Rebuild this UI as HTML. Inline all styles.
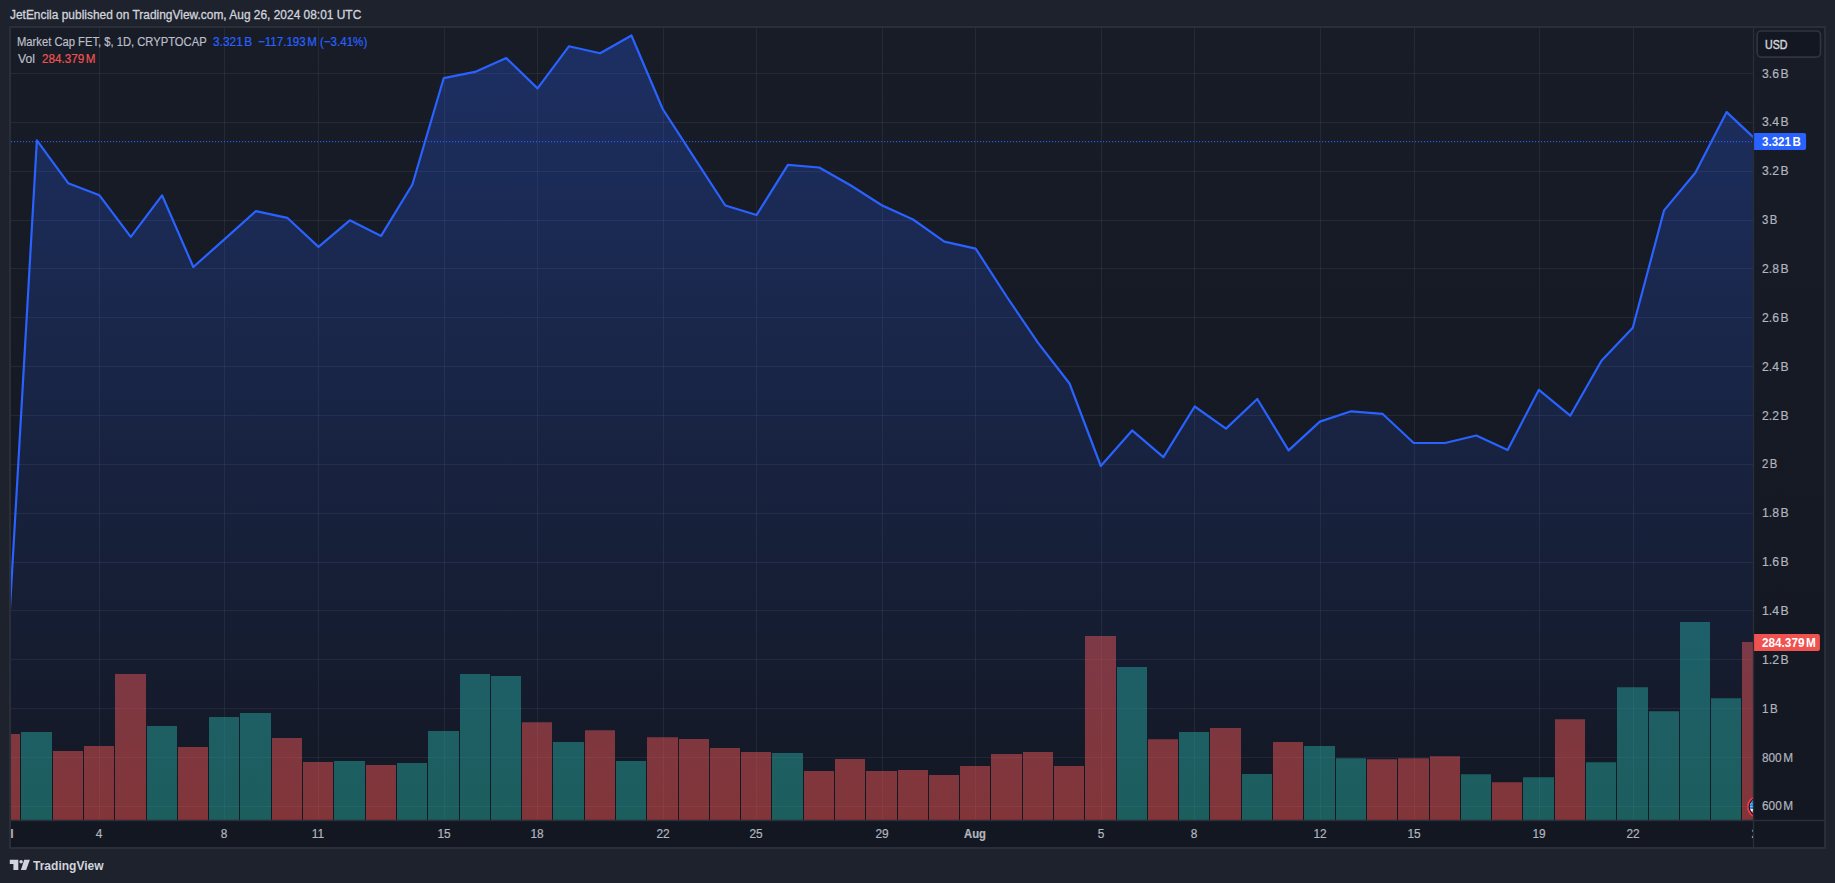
<!DOCTYPE html>
<html lang="en"><head><meta charset="utf-8"><title>Market Cap FET chart</title>
<style>
html,body{margin:0;padding:0;background:#1e222d;}
body{width:1835px;height:883px;position:relative;overflow:hidden;font-family:"Liberation Sans",sans-serif;}
.t{position:absolute;white-space:nowrap;line-height:20px;height:20px;margin:0;padding:0;}
.ts{display:inline-block;width:1.6px;}
#clipx{position:absolute;left:11.0px;top:821.5px;width:1742.0px;height:25.5px;overflow:hidden;}
</style></head><body>
<svg width="1835" height="883" viewBox="0 0 1835 883" style="position:absolute;left:0;top:0">
<defs>
<linearGradient id="bg" x1="0" y1="0" x2="0" y2="1"><stop offset="0" stop-color="#181c27"/><stop offset="1" stop-color="#131722"/></linearGradient>
<linearGradient id="af" gradientUnits="userSpaceOnUse" x1="0" y1="27.5" x2="0" y2="820.5"><stop offset="0" stop-color="#2962ff" stop-opacity="0.28"/><stop offset="1" stop-color="#2962ff" stop-opacity="0.0"/></linearGradient>
<clipPath id="pane"><rect x="11.0" y="28.0" width="1742.5" height="792.5"/></clipPath>
</defs>
<rect x="10.0" y="27.0" width="1815.0" height="821.0" fill="url(#bg)" stroke="#2a2e39" stroke-width="2"/>
<path d="M99.50 28.0V820.5M224.50 28.0V820.5M318.50 28.0V820.5M444.50 28.0V820.5M537.50 28.0V820.5M663.50 28.0V820.5M756.50 28.0V820.5M882.50 28.0V820.5M975.50 28.0V820.5M1101.50 28.0V820.5M1194.50 28.0V820.5M1320.50 28.0V820.5M1414.50 28.0V820.5M1539.50 28.0V820.5M1633.50 28.0V820.5M11.0 73.5H1753.5M11.0 122.5H1753.5M11.0 171.5H1753.5M11.0 220.5H1753.5M11.0 268.5H1753.5M11.0 317.5H1753.5M11.0 366.5H1753.5M11.0 415.5H1753.5M11.0 464.5H1753.5M11.0 513.5H1753.5M11.0 562.5H1753.5M11.0 610.5H1753.5M11.0 659.5H1753.5M11.0 708.5H1753.5M11.0 757.5H1753.5M11.0 806.5H1753.5" stroke="rgba(240,243,250,0.065)" stroke-width="1" fill="none"/>
<g clip-path="url(#pane)">
<path d="M21 732.0H52V820.5H21ZM147 726.0H177V820.5H147ZM209 717.0H239V820.5H209ZM240 713.0H271V820.5H240ZM334 761.1H365V820.5H334ZM397 763.1H427V820.5H397ZM428 731.0H459V820.5H428ZM460 674.1H490V820.5H460ZM491 676.1H521V820.5H491ZM553 742.1H584V820.5H553ZM616 761.1H646V820.5H616ZM772 753.1H803V820.5H772ZM1117 667.1H1147V820.5H1117ZM1179 732.0H1209V820.5H1179ZM1242 774.1H1272V820.5H1242ZM1304 746.1H1335V820.5H1304ZM1336 758.2H1366V820.5H1336ZM1461 774.2H1491V820.5H1461ZM1523 777.2H1554V820.5H1523ZM1586 762.2H1616V820.5H1586ZM1617 687.2H1648V820.5H1617ZM1649 711.3H1679V820.5H1649ZM1680 622.0H1710V820.5H1680ZM1711 698.2H1741V820.5H1711Z" fill="rgba(38,166,154,0.5)"/>
<path d="M-10 734.0H20V820.5H-10ZM53 751.1H83V820.5H53ZM84 746.1H114V820.5H84ZM115 674.1H146V820.5H115ZM178 747.1H208V820.5H178ZM272 738.0H302V820.5H272ZM303 762.1H333V820.5H303ZM366 765.1H396V820.5H366ZM522 722.3H552V820.5H522ZM585 730.3H615V820.5H585ZM647 737.3H678V820.5H647ZM679 739.0H709V820.5H679ZM710 748.1H740V820.5H710ZM741 752.1H771V820.5H741ZM804 771.1H834V820.5H804ZM835 759.1H865V820.5H835ZM866 771.1H897V820.5H866ZM898 770.1H928V820.5H898ZM929 775.1H959V820.5H929ZM960 766.1H990V820.5H960ZM991 754.1H1022V820.5H991ZM1023 752.1H1053V820.5H1023ZM1054 766.1H1084V820.5H1054ZM1085 636.0H1116V820.5H1085ZM1148 739.3H1178V820.5H1148ZM1210 728.0H1241V820.5H1210ZM1273 742.1H1303V820.5H1273ZM1367 759.2H1397V820.5H1367ZM1398 758.2H1429V820.5H1398ZM1430 756.2H1460V820.5H1430ZM1492 782.2H1522V820.5H1492ZM1555 719.3H1585V820.5H1555ZM1742 642.1H1773V820.5H1742Z" fill="rgba(239,83,80,0.5)"/>
<polygon points="5.60,820.5 5.60,684.0 36.89,140.3 68.18,183.2 99.48,195.3 130.77,236.9 162.06,195.3 193.35,267.0 224.64,239.1 255.94,211.1 287.23,217.8 318.52,246.9 349.81,220.3 381.10,235.9 412.40,184.5 443.69,78.2 474.98,71.9 506.27,58.1 537.56,88.4 568.86,46.3 600.15,53.3 631.44,35.5 662.73,109.0 694.02,157.3 725.32,205.5 756.61,215.0 787.90,164.9 819.19,167.5 850.48,185.2 881.78,205.2 913.07,219.5 944.36,241.6 975.65,248.6 1006.94,297.0 1038.24,343.1 1069.53,383.5 1100.82,466.0 1132.11,430.4 1163.40,457.2 1194.70,406.5 1225.99,428.6 1257.28,399.0 1288.57,450.4 1319.86,421.6 1351.16,411.3 1382.45,413.8 1413.74,443.0 1445.03,443.0 1476.32,435.5 1507.62,450.0 1538.91,389.8 1570.20,415.7 1601.49,360.8 1632.78,327.7 1664.08,210.4 1695.37,172.8 1726.66,112.1 1757.95,141.6 1757.95,820.5" fill="url(#af)"/>
<polyline points="5.60,684.0 36.89,140.3 68.18,183.2 99.48,195.3 130.77,236.9 162.06,195.3 193.35,267.0 224.64,239.1 255.94,211.1 287.23,217.8 318.52,246.9 349.81,220.3 381.10,235.9 412.40,184.5 443.69,78.2 474.98,71.9 506.27,58.1 537.56,88.4 568.86,46.3 600.15,53.3 631.44,35.5 662.73,109.0 694.02,157.3 725.32,205.5 756.61,215.0 787.90,164.9 819.19,167.5 850.48,185.2 881.78,205.2 913.07,219.5 944.36,241.6 975.65,248.6 1006.94,297.0 1038.24,343.1 1069.53,383.5 1100.82,466.0 1132.11,430.4 1163.40,457.2 1194.70,406.5 1225.99,428.6 1257.28,399.0 1288.57,450.4 1319.86,421.6 1351.16,411.3 1382.45,413.8 1413.74,443.0 1445.03,443.0 1476.32,435.5 1507.62,450.0 1538.91,389.8 1570.20,415.7 1601.49,360.8 1632.78,327.7 1664.08,210.4 1695.37,172.8 1726.66,112.1 1757.95,141.6" fill="none" stroke="#2962ff" stroke-width="2.2" stroke-linejoin="round" stroke-linecap="round"/>
<path d="M11.0 141.5H1753.5" stroke="#2962ff" stroke-width="1.25" stroke-dasharray="1.15 1.85" fill="none" opacity="0.88"/>
<g><clipPath id="fl"><circle cx="1758.0" cy="806.85" r="8.1"/></clipPath><circle cx="1758.0" cy="806.85" r="10.2" fill="#131722" stroke="#f23645" stroke-width="1.6"/><g clip-path="url(#fl)"><rect x="1749.0" y="797.85" width="18" height="18" fill="#fff"/><path d="M1749.0 812.45h18M1758.5 800.35h9M1758.5 804.35h9M1758.5 808.35h9" stroke="#f23645" stroke-width="2.1"/><rect x="1749.0" y="797.85" width="9.5" height="11.2" fill="#1e88e5"/><path d="M1749.0 803.95h9.5M1749.0 806.5500000000001h9.5" stroke="#90caf9" stroke-width="0.8"/></g></g>
</g>
<path d="M11.0 820.5H1824.0M1753.5 28.0V847.0" stroke="#2a2e39" stroke-width="1.3" fill="none"/>
<path d="M1754.1 133.1H1804.1a2.0 2.0 0 0 1 2.0 2.0V147.9a2.0 2.0 0 0 1 -2.0 2.0H1754.1Z" fill="#2962ff"/>
<path d="M1754.1 634.0H1817.9a2.0 2.0 0 0 1 2.0 2.0V649.1a2.0 2.0 0 0 1 -2.0 2.0H1754.1Z" fill="#ef5350"/>
<rect x="1757.2" y="31" width="63.3" height="26.1" rx="4" fill="#131722" stroke="#30343f" stroke-width="1.7"/>
<g fill="#d1d4dc" transform="translate(9.8 859.8)"><path d="M0 0H8.5V10.1H3.6V4.25H0Z"/><circle cx="11.3" cy="2" r="1.75"/><path d="M14.4 0H20.1L16.35 10.1H11.1Z"/></g>
</svg>
<div class="t" id="hdr" style="left:9.69px;top:5.17px;color:#d1d4dc;font-size:12.5px;-webkit-text-stroke:0.3px #d1d4dc;transform:scaleX(0.9544);transform-origin:0 50%">JetEncila published on TradingView.com, Aug 26, 2024 08:01 UTC</div>
<div class="t" id="l1" style="left:17.09px;top:32.07px;color:#bcbfc8;font-size:12.5px;-webkit-text-stroke:0.2px #bcbfc8;transform:scaleX(0.8969);transform-origin:0 50%">Market Cap FET, $, 1D, CRYPTOCAP</div>
<div class="t" id="l1v" style="left:212.97px;top:32.07px;color:#2962ff;font-size:12.5px;-webkit-text-stroke:0.2px #2962ff;transform:scaleX(0.9507);transform-origin:0 50%">3.321<span class="ts"></span>B</div>
<div class="t" id="l1c" style="left:258.01px;top:32.07px;color:#2962ff;font-size:12.5px;-webkit-text-stroke:0.2px #2962ff;transform:scaleX(0.9249);transform-origin:0 50%">−117.193<span class="ts"></span>M (−3.41%)</div>
<div class="t" id="l2" style="left:17.62px;top:48.87px;color:#bcbfc8;font-size:12.5px;-webkit-text-stroke:0.2px #bcbfc8;transform:scaleX(0.9756);transform-origin:0 50%">Vol</div>
<div class="t" id="l2v" style="left:41.54px;top:48.87px;color:#ef5350;font-size:12.5px;-webkit-text-stroke:0.2px #ef5350;transform:scaleX(0.9338);transform-origin:0 50%">284.379<span class="ts"></span>M</div>
<div class="t" id="usd" style="left:1764.98px;top:34.70px;color:#d1d4dc;font-size:12.4px;-webkit-text-stroke:0.45px #d1d4dc;transform:scaleX(0.8592);transform-origin:0 50%">USD</div>
<div class="t" id="p3.6B" style="left:1761.84px;top:63.77px;color:#b2b5be;font-size:12.5px;-webkit-text-stroke:0.2px #b2b5be;transform:scaleX(0.9737);transform-origin:0 50%">3.6<span class="ts"></span>B</div>
<div class="t" id="p3.4B" style="left:1761.84px;top:112.34px;color:#b2b5be;font-size:12.5px;-webkit-text-stroke:0.2px #b2b5be;transform:scaleX(0.9737);transform-origin:0 50%">3.4<span class="ts"></span>B</div>
<div class="t" id="p3.2B" style="left:1761.84px;top:160.71px;color:#b2b5be;font-size:12.5px;-webkit-text-stroke:0.2px #b2b5be;transform:scaleX(0.9737);transform-origin:0 50%">3.2<span class="ts"></span>B</div>
<div class="t" id="p3B" style="left:1761.86px;top:210.38px;color:#b2b5be;font-size:12.5px;-webkit-text-stroke:0.2px #b2b5be;transform:scaleX(0.9114);transform-origin:0 50%">3<span class="ts"></span>B</div>
<div class="t" id="p2.8B" style="left:1762.03px;top:259.25px;color:#b2b5be;font-size:12.5px;-webkit-text-stroke:0.2px #b2b5be;transform:scaleX(0.9714);transform-origin:0 50%">2.8<span class="ts"></span>B</div>
<div class="t" id="p2.6B" style="left:1762.03px;top:308.12px;color:#b2b5be;font-size:12.5px;-webkit-text-stroke:0.2px #b2b5be;transform:scaleX(0.9714);transform-origin:0 50%">2.6<span class="ts"></span>B</div>
<div class="t" id="p2.4B" style="left:1762.03px;top:356.99px;color:#b2b5be;font-size:12.5px;-webkit-text-stroke:0.2px #b2b5be;transform:scaleX(0.9714);transform-origin:0 50%">2.4<span class="ts"></span>B</div>
<div class="t" id="p2.2B" style="left:1762.03px;top:405.86px;color:#b2b5be;font-size:12.5px;-webkit-text-stroke:0.2px #b2b5be;transform:scaleX(0.9714);transform-origin:0 50%">2.2<span class="ts"></span>B</div>
<div class="t" id="p2B" style="left:1762.06px;top:453.93px;color:#b2b5be;font-size:12.5px;-webkit-text-stroke:0.2px #b2b5be;transform:scaleX(0.9078);transform-origin:0 50%">2<span class="ts"></span>B</div>
<div class="t" id="p1.8B" style="left:1761.69px;top:502.80px;color:#b2b5be;font-size:12.5px;-webkit-text-stroke:0.2px #b2b5be;transform:scaleX(0.9794);transform-origin:0 50%">1.8<span class="ts"></span>B</div>
<div class="t" id="p1.6B" style="left:1761.69px;top:552.47px;color:#b2b5be;font-size:12.5px;-webkit-text-stroke:0.2px #b2b5be;transform:scaleX(0.9794);transform-origin:0 50%">1.6<span class="ts"></span>B</div>
<div class="t" id="p1.4B" style="left:1761.69px;top:601.34px;color:#b2b5be;font-size:12.5px;-webkit-text-stroke:0.2px #b2b5be;transform:scaleX(0.9794);transform-origin:0 50%">1.4<span class="ts"></span>B</div>
<div class="t" id="p1.2B" style="left:1761.69px;top:650.21px;color:#b2b5be;font-size:12.5px;-webkit-text-stroke:0.2px #b2b5be;transform:scaleX(0.9794);transform-origin:0 50%">1.2<span class="ts"></span>B</div>
<div class="t" id="p1B" style="left:1761.70px;top:699.08px;color:#b2b5be;font-size:12.5px;-webkit-text-stroke:0.2px #b2b5be;transform:scaleX(0.9260);transform-origin:0 50%">1<span class="ts"></span>B</div>
<div class="t" id="p800M" style="left:1762.07px;top:747.95px;color:#b2b5be;font-size:12.5px;-webkit-text-stroke:0.2px #b2b5be;transform:scaleX(0.9433);transform-origin:0 50%">800<span class="ts"></span>M</div>
<div class="t" id="p600M" style="left:1762.00px;top:796.32px;color:#b2b5be;font-size:12.5px;-webkit-text-stroke:0.2px #b2b5be;transform:scaleX(0.9450);transform-origin:0 50%">600<span class="ts"></span>M</div>
<div class="t" id="cur" style="left:1762.03px;top:131.57px;color:#fff;font-size:12.5px;font-weight:700;transform:scaleX(0.9259);transform-origin:0 50%">3.321<span class="ts"></span>B</div>
<div class="t" id="volv" style="left:1761.95px;top:632.77px;color:#fff;font-size:12.5px;font-weight:700;transform:scaleX(0.9392);transform-origin:0 50%">284.379<span class="ts"></span>M</div>
<div class="t" id="tv" style="left:32.66px;top:855.90px;color:#d1d4dc;font-size:12.4px;font-weight:700;transform:scaleX(0.9714);transform-origin:0 50%">TradingView</div>
<div id="clipx">
<div class="t" id="t0" style="left:-105.70px;width:200px;text-align:center;top:2.57px;font-weight:700;color:#b2b5be;font-size:12.5px;-webkit-text-stroke:0.2px #b2b5be;transform:scaleX(0.9500);transform-origin:50% 50%">Jul</div>
<div class="t" id="t3" style="left:-11.80px;width:200px;text-align:center;top:2.57px;color:#b2b5be;font-size:12.5px;-webkit-text-stroke:0.2px #b2b5be;transform:scaleX(0.9500);transform-origin:50% 50%">4</div>
<div class="t" id="t7" style="left:113.20px;width:200px;text-align:center;top:2.57px;color:#b2b5be;font-size:12.5px;-webkit-text-stroke:0.2px #b2b5be;transform:scaleX(0.9500);transform-origin:50% 50%">8</div>
<div class="t" id="t10" style="left:207.20px;width:200px;text-align:center;top:2.57px;color:#b2b5be;font-size:12.5px;-webkit-text-stroke:0.2px #b2b5be;transform:scaleX(0.9500);transform-origin:50% 50%">11</div>
<div class="t" id="t14" style="left:333.20px;width:200px;text-align:center;top:2.57px;color:#b2b5be;font-size:12.5px;-webkit-text-stroke:0.2px #b2b5be;transform:scaleX(0.9500);transform-origin:50% 50%">15</div>
<div class="t" id="t17" style="left:426.20px;width:200px;text-align:center;top:2.57px;color:#b2b5be;font-size:12.5px;-webkit-text-stroke:0.2px #b2b5be;transform:scaleX(0.9500);transform-origin:50% 50%">18</div>
<div class="t" id="t21" style="left:552.20px;width:200px;text-align:center;top:2.57px;color:#b2b5be;font-size:12.5px;-webkit-text-stroke:0.2px #b2b5be;transform:scaleX(0.9500);transform-origin:50% 50%">22</div>
<div class="t" id="t24" style="left:645.20px;width:200px;text-align:center;top:2.57px;color:#b2b5be;font-size:12.5px;-webkit-text-stroke:0.2px #b2b5be;transform:scaleX(0.9500);transform-origin:50% 50%">25</div>
<div class="t" id="t28" style="left:771.20px;width:200px;text-align:center;top:2.57px;color:#b2b5be;font-size:12.5px;-webkit-text-stroke:0.2px #b2b5be;transform:scaleX(0.9500);transform-origin:50% 50%">29</div>
<div class="t" id="t31" style="left:864.20px;width:200px;text-align:center;top:2.57px;font-weight:700;color:#b2b5be;font-size:12.5px;-webkit-text-stroke:0.2px #b2b5be;transform:scaleX(0.9004);transform-origin:50% 50%">Aug</div>
<div class="t" id="t35" style="left:990.20px;width:200px;text-align:center;top:2.57px;color:#b2b5be;font-size:12.5px;-webkit-text-stroke:0.2px #b2b5be;transform:scaleX(0.9500);transform-origin:50% 50%">5</div>
<div class="t" id="t38" style="left:1083.20px;width:200px;text-align:center;top:2.57px;color:#b2b5be;font-size:12.5px;-webkit-text-stroke:0.2px #b2b5be;transform:scaleX(0.9500);transform-origin:50% 50%">8</div>
<div class="t" id="t42" style="left:1209.20px;width:200px;text-align:center;top:2.57px;color:#b2b5be;font-size:12.5px;-webkit-text-stroke:0.2px #b2b5be;transform:scaleX(0.9500);transform-origin:50% 50%">12</div>
<div class="t" id="t45" style="left:1303.20px;width:200px;text-align:center;top:2.57px;color:#b2b5be;font-size:12.5px;-webkit-text-stroke:0.2px #b2b5be;transform:scaleX(0.9500);transform-origin:50% 50%">15</div>
<div class="t" id="t49" style="left:1428.20px;width:200px;text-align:center;top:2.57px;color:#b2b5be;font-size:12.5px;-webkit-text-stroke:0.2px #b2b5be;transform:scaleX(0.9500);transform-origin:50% 50%">19</div>
<div class="t" id="t52" style="left:1522.20px;width:200px;text-align:center;top:2.57px;color:#b2b5be;font-size:12.5px;-webkit-text-stroke:0.2px #b2b5be;transform:scaleX(0.9500);transform-origin:50% 50%">22</div>
<div class="t" id="t56" style="left:1646.65px;width:200px;text-align:center;top:2.57px;color:#b2b5be;font-size:12.5px;-webkit-text-stroke:0.2px #b2b5be;transform:scaleX(0.9500);transform-origin:50% 50%">26</div>
</div>
</body></html>
